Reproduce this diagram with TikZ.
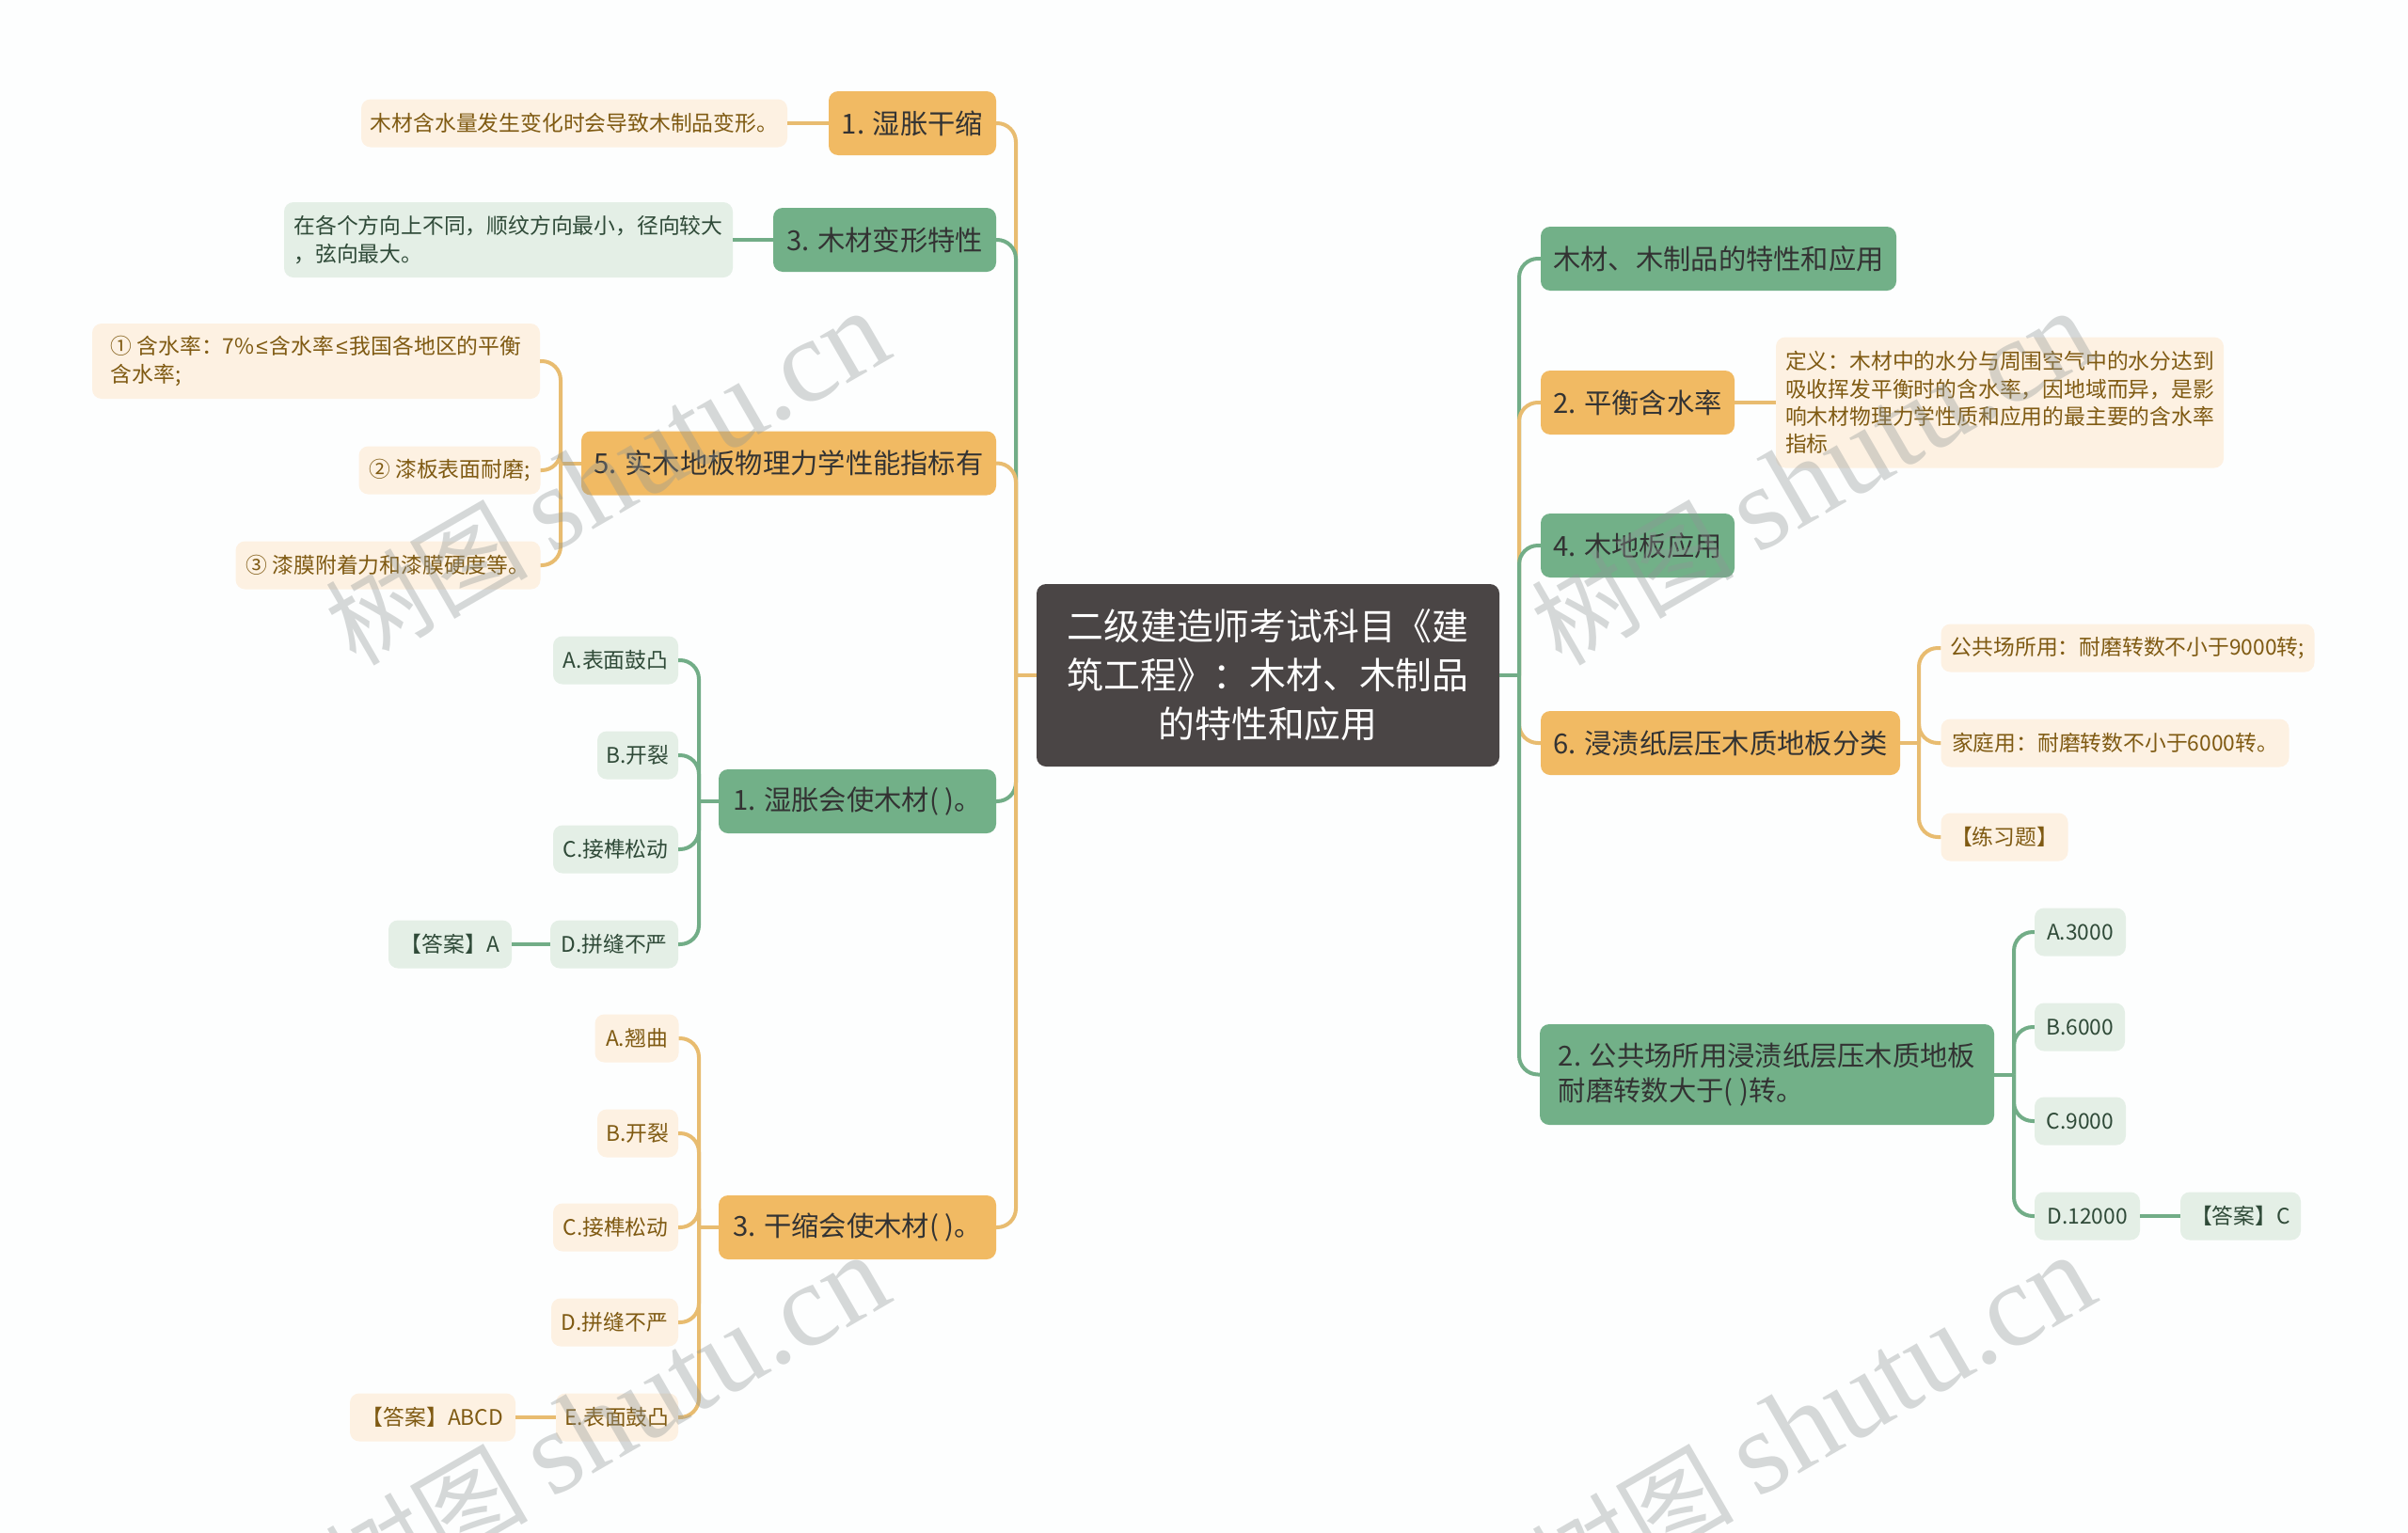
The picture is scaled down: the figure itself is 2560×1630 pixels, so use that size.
\documentclass[tikz,border=0pt]{standalone}
\usepackage{fontspec}
\setmainfont{Noto Sans CJK SC}
\newfontfamily\markfont{Liberation Serif}
\newfontfamily\signfont{Liberation Sans}
\usetikzlibrary{positioning, calc}

\definecolor{bgpage}{HTML}{FDFEFE}
\definecolor{rootfill}{HTML}{4A4545}
\definecolor{orangefill}{HTML}{F1BA63}
\definecolor{greenfill}{HTML}{72B088}
\definecolor{orangeline}{HTML}{E8BC70}
\definecolor{greenline}{HTML}{72AD87}
\definecolor{orangesoft}{HTML}{FDF1E2}
\definecolor{greensoft}{HTML}{E4EFE6}
\definecolor{orangetext}{HTML}{7F5A12}
\definecolor{greentext}{HTML}{2F4A38}
\definecolor{marktext}{HTML}{8F9696}

\newcommand{\lesign}{\kern2pt{\signfont ≤}\kern2pt}

\tikzset{
    box/.style={rounded corners=10pt, inner sep=0pt, align=left},
    rootbox/.style={box, fill=rootfill, text=white, align=center,
        font=\fontsize{38.8}{52}\selectfont},
    mainorange/.style={box, fill=orangefill, text=black!80, minimum height=68pt,
        font=\fontsize{29.3}{37.5}\selectfont},
    maingreen/.style={box, fill=greenfill, text=black!80, minimum height=68pt,
        font=\fontsize{29.3}{37.5}\selectfont},
    softorange/.style={box, fill=orangesoft, text=orangetext, minimum height=51pt,
        font=\fontsize{22.8}{29.4}\selectfont},
    softgreen/.style={box, fill=greensoft, text=greentext, minimum height=51pt,
        font=\fontsize{22.8}{29.4}\selectfont},
    lineorange/.style={draw=orangeline, line width=4pt, rounded corners=20pt},
    linegreen/.style={draw=greenline, line width=4pt, rounded corners=20pt},
    markbox/.style={rotate=30, text=marktext, text opacity=.36, inner sep=0pt,
        font=\fontsize{108}{120}\selectfont}
}

\begin{document}
\begin{tikzpicture}[x=1pt, y=-1pt]
    \fill[bgpage] (0,0) rectangle (2560,1630);
    \useasboundingbox (0,0) rectangle (2560,1630);

    \coordinate (lt) at (1080,718);
    \coordinate (rt) at (1615,718);
    \coordinate (lt5) at (596,492.5);
    \coordinate (ltq1) at (743,852);
    \coordinate (ltq3) at (743,1305);
    \coordinate (rt6) at (2040,790);
    \coordinate (rtq2) at (2141,1142.5);

    % left side
    \node[mainorange, minimum width=178pt] (l1) at (970,131) {1. 湿胀干缩};
    \node[softorange, minimum width=453pt] (l1a) at (610.5,131) {木材含水量发生变化时会导致木制品变形。};
    \node[maingreen, minimum width=237pt] (l3) at (940.5,255) {3. 木材变形特性};
    \node[softgreen, minimum width=477pt, minimum height=80pt] (l3a) at (540.5,255) {在各个方向上不同，顺纹方向最小，径向较大\\，弦向最大。};
    \node[mainorange, minimum width=441pt] (l5) at (838.5,492.5) {5. 实木地板物理力学性能指标有};
    \node[softorange, minimum width=476pt, minimum height=80pt] (l5a) at (336,384) {① 含水率：7\%\lesign 含水率\lesign 我国各地区的平衡\\含水率;};
    \node[softorange, minimum width=193pt] (l5b) at (478,500) {② 漆板表面耐磨;};
    \node[softorange, minimum width=324pt] (l5c) at (412.5,601) {③ 漆膜附着力和漆膜硬度等。};

    \node[maingreen, minimum width=295pt] (q1) at (911.5,852) {1. 湿胀会使木材( )。};
    \node[softgreen, minimum width=133pt] (q1a) at (654.5,702) {A.表面鼓凸};
    \node[softgreen, minimum width=86pt] (q1b) at (678,803) {B.开裂};
    \node[softgreen, minimum width=133pt] (q1c) at (654.5,903) {C.接榫松动};
    \node[softgreen, minimum width=136pt] (q1d) at (653,1004) {D.拼缝不严};
    \node[softgreen, minimum width=131pt] (q1e) at (478.5,1004) {【答案】A};

    \node[mainorange, minimum width=295pt] (q3) at (911.5,1305) {3. 干缩会使木材( )。};
    \node[softorange, minimum width=89pt] (q3a) at (677,1104) {A.翘曲};
    \node[softorange, minimum width=86pt] (q3b) at (678,1205) {B.开裂};
    \node[softorange, minimum width=133pt] (q3c) at (654.5,1305) {C.接榫松动};
    \node[softorange, minimum width=135pt] (q3d) at (653.5,1406) {D.拼缝不严};
    \node[softorange, minimum width=130pt] (q3e) at (656,1507) {E.表面鼓凸};
    \node[softorange, minimum width=176pt] (q3f) at (460,1507) {【答案】ABCD};

    % right side
    \node[maingreen, minimum width=378pt] (r1) at (1827,275) {木材、木制品的特性和应用};
    \node[mainorange, minimum width=206pt] (r2) at (1741,428) {2. 平衡含水率};
    \node[softorange, minimum width=476pt, minimum height=139pt] (r2a) at (2126,428) {定义：木材中的水分与周围空气中的水分达到\\吸收挥发平衡时的含水率，因地域而异，是影\\响木材物理力学性质和应用的最主要的含水率\\指标};
    \node[maingreen, minimum width=206pt] (r4) at (1741,580) {4. 木地板应用};
    \node[mainorange, minimum width=382pt] (r6) at (1829,790) {6. 浸渍纸层压木质地板分类};
    \node[softorange, minimum width=397pt] (r6a) at (2262,689) {公共场所用：耐磨转数不小于9000转;};
    \node[softorange, minimum width=370pt] (r6b) at (2248.5,790) {家庭用：耐磨转数不小于6000转。};
    \node[softorange, minimum width=135pt] (r6c) at (2131,890) {【练习题】};

    \node[maingreen, minimum width=483pt, minimum height=107pt] (q2) at (1878.5,1142.5) {2. 公共场所用浸渍纸层压木质地板\\耐磨转数大于( )转。};
    \node[softgreen, minimum width=97pt] (q2a) at (2211.5,991) {A.3000};
    \node[softgreen, minimum width=96pt] (q2b) at (2211,1092) {B.6000};
    \node[softgreen, minimum width=97pt] (q2c) at (2211.5,1192) {C.9000};
    \node[softgreen, minimum width=112pt] (q2d) at (2219,1293) {D.12000};
    \node[softgreen, minimum width=128pt] (q2e) at (2382,1293) {【答案】C};

    \node[rootbox, minimum width=492pt, minimum height=194pt] (root) at (1348,718) {二级建造师考试科目《建\\筑工程》：木材、木制品\\的特性和应用};

    \draw[lineorange] (lt) |- (l1.east);
    \draw[linegreen] (lt) |- (l3.east);
    \draw[lineorange] (lt) |- (l5.east);
    \draw[linegreen] (lt) |- (q1.east);
    \draw[lineorange] (lt) |- (q3.east);
    \draw[lineorange] (root.west) -- (lt);
    \draw[lineorange] (rt) |- (r6.west);
    \draw[linegreen] (rt) |- (r1.west);
    \draw[lineorange] (rt) |- (r2.west);
    \draw[linegreen] (rt) |- (r4.west);
    \draw[linegreen] (rt) |- (q2.west);
    \draw[linegreen] (root.east) -- (rt);

    \draw[lineorange] (l1.west) -- (l1a.east);
    \draw[linegreen] (l3.west) -- (l3a.east);
    \draw[lineorange] (r2.east) -- (r2a.west);
    \draw[linegreen] (q1d.west) -- (q1e.east);
    \draw[lineorange] (q3e.west) -- (q3f.east);
    \draw[linegreen] (q2d.east) -- (q2e.west);

    \draw[lineorange] (l5.west) -- (lt5);
    \foreach \n in {l5a, l5b, l5c}
        \draw[lineorange] (lt5) |- (\n.east);
    \draw[linegreen] (q1.west) -- (ltq1);
    \foreach \n in {q1a, q1b, q1c, q1d}
        \draw[linegreen] (ltq1) |- (\n.east);
    \draw[lineorange] (q3.west) -- (ltq3);
    \foreach \n in {q3a, q3b, q3c, q3d, q3e}
        \draw[lineorange] (ltq3) |- (\n.east);
    \draw[lineorange] (r6.east) -- (rt6);
    \foreach \n in {r6a, r6b, r6c}
        \draw[lineorange] (rt6) |- (\n.west);
    \draw[linegreen] (q2.east) -- (rtq2);
    \foreach \n in {q2a, q2b, q2c, q2d}
        \draw[linegreen] (rtq2) |- (\n.west);

    % site mark
    \foreach \n/\x/\y in {m1/645/508, m2/1927/508, m3/645/1512, m4/1927/1512}
        \node[markbox] (\n) at (\x,\y) {树图 {\markfont\fontsize{126}{126}\selectfont shutu.cn}};
\end{tikzpicture}
\end{document}
